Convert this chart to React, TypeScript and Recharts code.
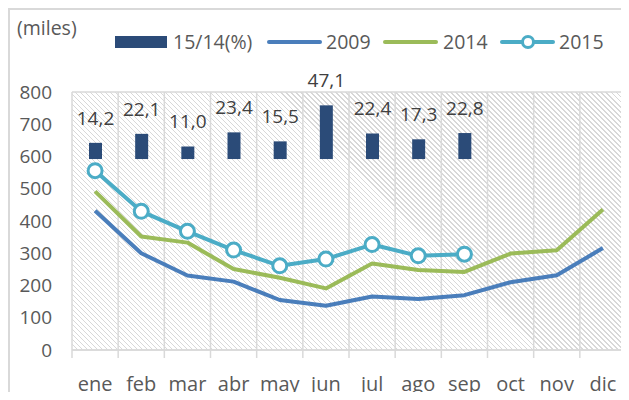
import React from 'react';
import {
  ComposedChart,
  Bar,
  Line,
  XAxis,
  YAxis,
  CartesianGrid,
  Legend,
  LabelList,
} from 'recharts';

const months = ['ene', 'feb', 'mar', 'abr', 'may', 'jun', 'jul', 'ago', 'sep', 'oct', 'nov', 'dic'];
const pct: (number | null)[] = [14.2, 22.1, 11.0, 23.4, 15.5, 47.1, 22.4, 17.3, 22.8, null, null, null];
const y2009 = [432, 300, 231, 212, 155, 137, 166, 158, 170, 210, 232, 316];
const y2014 = [492, 352, 333, 251, 224, 191, 268, 248, 242, 299, 309, 436];
const y2015: (number | null)[] = [556, 430, 368, 310, 261, 282, 327, 292, 297, null, null, null];
const yTicks = [0, 100, 200, 300, 400, 500, 600, 700, 800];

const data = months.map((m, i) => ({
  month: m,
  pct: pct[i],
  y2009: y2009[i],
  y2014: y2014[i],
  y2015: y2015[i],
}));

const W = 619;
const H = 390;
const MARGIN = { top: 82, right: 3, bottom: 10, left: 12 };
const Y_W = 50;
const X_H = 40;
const PLOT_L = MARGIN.left + Y_W;
const PLOT_W = W - MARGIN.left - MARGIN.right - Y_W;
const PLOT_H = H - MARGIN.top - MARGIN.bottom - X_H;
const BW = PLOT_W / months.length;

const TEXT = '#595959';
const GRID = '#d9d9d9';
const C_BAR = '#2b4b78';
const C_2009 = '#4a7ebb';
const C_2014 = '#9bbb59';
const C_2015 = '#4bacc6';

const XTick = (props: any) => {
  const { x, y, payload, index } = props;
  return (
    <g>
      <line x1={x - BW / 2} x2={x - BW / 2} y1={y} y2={y + 8} stroke={GRID} strokeWidth={1.5} />
      {index === months.length - 1 && (
        <line x1={x + BW / 2} x2={x + BW / 2} y1={y} y2={y + 8} stroke={GRID} strokeWidth={1.5} />
      )}
      <text x={x} y={y + 41} textAnchor="middle" fill={TEXT} fontSize={20}>
        {payload.value}
      </text>
    </g>
  );
};

const renderLegend = () => {
  const txt: React.CSSProperties = {
    position: 'absolute',
    top: 21,
    lineHeight: '22px',
    fontSize: 19.5,
    color: TEXT,
    whiteSpace: 'nowrap',
  };
  const lineSw = (left: number, color: string): React.CSSProperties => ({
    position: 'absolute',
    left,
    top: 30,
    width: 55,
    height: 4,
    borderRadius: 2,
    background: color,
  });
  return (
    <div style={{ position: 'relative', width: W, height: 60 }}>
      <div style={{ ...txt, left: 7, top: 7 }}>(miles)</div>
      <div style={{ position: 'absolute', left: 105, top: 26, width: 52, height: 12, background: C_BAR }} />
      <div style={{ ...txt, left: 163 }}>15/14(%)</div>
      <div style={lineSw(257, C_2009)} />
      <div style={{ ...txt, left: 316 }}>2009</div>
      <div style={lineSw(373, C_2014)} />
      <div style={{ ...txt, left: 433 }}>2014</div>
      <div style={lineSw(490, C_2015)} />
      <svg style={{ position: 'absolute', left: 510, top: 24 }} width={16} height={16}>
        <circle cx={8} cy={8} r={5.5} fill="#fff" stroke={C_2015} strokeWidth={3} />
      </svg>
      <div style={{ ...txt, left: 549 }}>2015</div>
    </div>
  );
};

const fmt = (v: any) => (v == null ? '' : Number(v).toFixed(1).replace('.', ','));

export default function App() {
  return (
    <div
      style={{
        width: 621,
        height: 392,
        marginBottom: -8,
        boxSizing: 'border-box',
        borderTop: `2px solid ${GRID}`,
        borderLeft: `2px solid ${GRID}`,
        overflow: 'hidden',
        background: '#fff',
        fontFamily: "'Open Sans', sans-serif",
        position: 'relative',
      }}
    >
      <div
        style={{
          position: 'absolute',
          left: PLOT_L,
          top: MARGIN.top,
          width: PLOT_W,
          height: PLOT_H,
          backgroundImage:
            'repeating-linear-gradient(45deg, #d8d8d8 0px, #d8d8d8 1px, #ffffff 1px, #ffffff 3.54px)',
        }}
      />
      <ComposedChart width={W} height={H} data={data} margin={MARGIN}>
        <CartesianGrid
          stroke={GRID}
          strokeWidth={1.5}
          verticalCoordinatesGenerator={({ offset }: any) =>
            Array.from({ length: months.length + 1 }, (_, i) => offset.left + (i * offset.width) / months.length)
          }
        />
        <XAxis
          dataKey="month"
          height={X_H}
          interval={0}
          tickLine={false}
          tickSize={0}
          tickMargin={0}
          axisLine={{ stroke: GRID, strokeWidth: 1.5 }}
          tick={<XTick />}
        />
        <YAxis
          yAxisId="left"
          width={Y_W}
          domain={[0, 800]}
          ticks={yTicks}
          tickLine={false}
          axisLine={false}
          tickSize={0}
          tickMargin={20}
          tick={{ fill: TEXT, fontSize: 19 }}
        />
        <YAxis yAxisId="pct" hide domain={[-167.5, 58.8]} orientation="right" />
        <Legend
          verticalAlign="middle"
          align="center"
          layout="horizontal"
          content={renderLegend}
          wrapperStyle={{ top: 0, left: 0, width: W, height: 60 }}
        />
        <Bar yAxisId="pct" dataKey="pct" name="15/14(%)" fill={C_BAR} barSize={13} isAnimationActive={false}>
          <LabelList dataKey="pct" position="top" offset={18} formatter={fmt} fill="#404040" fontSize={19} />
        </Bar>
        <Line
          yAxisId="left"
          dataKey="y2009"
          name="2009"
          stroke={C_2009}
          strokeWidth={4}
          dot={false}
          strokeLinejoin="round"
          isAnimationActive={false}
        />
        <Line
          yAxisId="left"
          dataKey="y2014"
          name="2014"
          stroke={C_2014}
          strokeWidth={4}
          dot={false}
          strokeLinejoin="round"
          isAnimationActive={false}
        />
        <Line
          yAxisId="left"
          dataKey="y2015"
          name="2015"
          stroke={C_2015}
          strokeWidth={4}
          dot={{ r: 7, fill: '#fff', stroke: C_2015, strokeWidth: 3 }}
          strokeLinejoin="round"
          isAnimationActive={false}
        />
      </ComposedChart>
    </div>
  );
}
